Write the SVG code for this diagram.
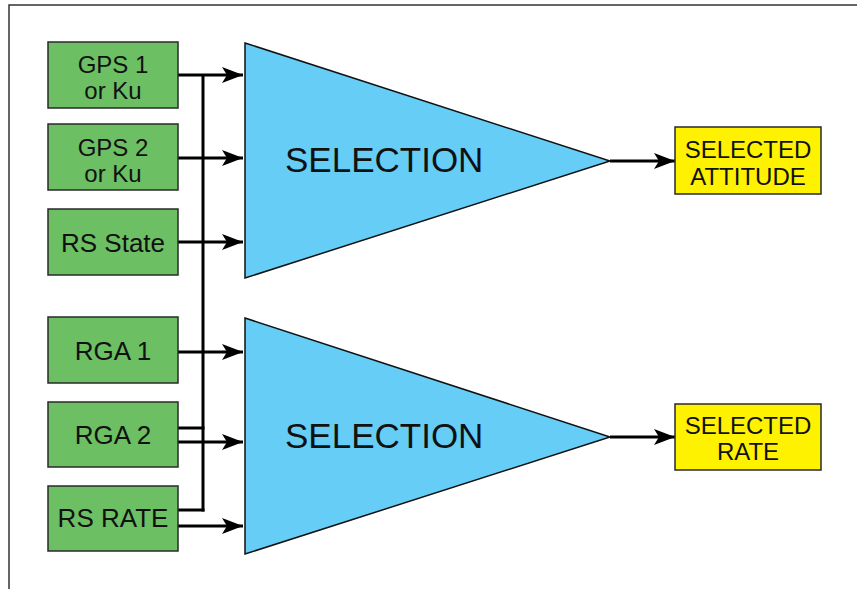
<svg xmlns="http://www.w3.org/2000/svg" width="857" height="589" viewBox="0 0 857 589">
<style>
.src rect{fill:#6CBF63;stroke:#2a2a2a;stroke-width:1.5}
.tri polygon{fill:#66CDF6;stroke:#111;stroke-width:1.5}
.out rect{fill:#FFF200;stroke:#2a2a2a;stroke-width:1.5}
text{font-family:"Liberation Sans",Arial,Helvetica,sans-serif;fill:#111;text-anchor:middle}
.bt{font-size:26px}
.b2{font-size:24px}
.tt{font-size:35px;text-anchor:start}
.ot{font-size:24px}
.c line,.c path{stroke:#000;stroke-width:3;fill:none}
</style>
<defs>
<marker id="ah" markerUnits="userSpaceOnUse" markerWidth="24" markerHeight="18" refX="21" refY="9" orient="auto">
<path d="M0,1 L21,9 L0,17 L5,9 Z" fill="#000"/>
</marker>
</defs>
<rect width="857" height="589" fill="#fff"/>
<path d="M9,589 V5 H857" fill="none" stroke="#333" stroke-width="1.5"/>
<g class="c" id="connectors">
<line x1="203" y1="75" x2="203" y2="511.5"/>
<line x1="178" y1="75" x2="243" y2="75" marker-end="url(#ah)"/>
<line x1="178" y1="158" x2="243" y2="158" marker-end="url(#ah)"/>
<line x1="178" y1="242" x2="243" y2="242" marker-end="url(#ah)"/>
<line x1="178" y1="352" x2="243" y2="352" marker-end="url(#ah)"/>
<line x1="178" y1="428" x2="204.5" y2="428"/>
<line x1="178" y1="442" x2="243" y2="442" marker-end="url(#ah)"/>
<line x1="178" y1="510" x2="204.5" y2="510"/>
<line x1="178" y1="526" x2="243" y2="526" marker-end="url(#ah)"/>
<line x1="610" y1="161" x2="675" y2="161" marker-end="url(#ah)"/>
<line x1="610" y1="437" x2="675" y2="437" marker-end="url(#ah)"/>
</g>
<g class="src" id="gps1"><rect x="48" y="42" width="130" height="66"/><text class="b2" x="113" y="73">GPS 1</text><text class="b2" x="113" y="99">or Ku</text></g>
<g class="src" id="gps2"><rect x="48" y="124" width="130" height="66"/><text class="b2" x="113" y="156">GPS 2</text><text class="b2" x="113" y="182">or Ku</text></g>
<g class="src" id="rsstate"><rect x="48" y="209" width="130" height="66"/><text class="bt" x="113" y="252">RS State</text></g>
<g class="src" id="rga1"><rect x="48" y="317" width="130" height="66"/><text class="bt" x="113" y="360">RGA 1</text></g>
<g class="src" id="rga2"><rect x="48" y="402" width="130" height="65"/><text class="bt" x="113" y="444">RGA 2</text></g>
<g class="src" id="rsrate"><rect x="48" y="486" width="130" height="65"/><text class="bt" x="113" y="527">RS RATE</text></g>
<g class="tri" id="sel1"><polygon points="245,43 610,161 245,278"/><text class="tt" x="285" y="172">SELECTION</text></g>
<g class="tri" id="sel2"><polygon points="245,318 610,437 245,554"/><text class="tt" x="285" y="448">SELECTION</text></g>
<g class="out" id="att"><rect x="675" y="127" width="146" height="67"/><text class="ot" x="748" y="158">SELECTED</text><text class="ot" x="748" y="185">ATTITUDE</text></g>
<g class="out" id="rate"><rect x="675" y="404" width="146" height="66"/><text class="ot" x="748" y="434">SELECTED</text><text class="ot" x="748" y="460">RATE</text></g>
</svg>
